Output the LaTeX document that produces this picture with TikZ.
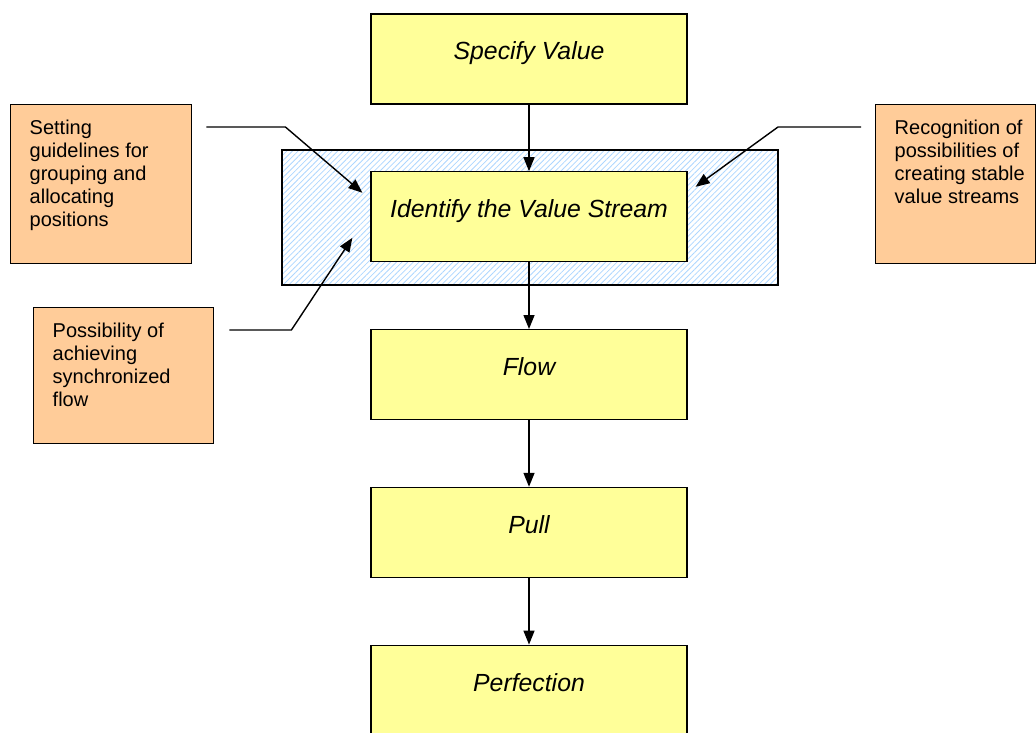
\documentclass[tikz,border=0pt]{standalone}
\usepackage{fontspec}
\setmainfont{Liberation Sans}
\usetikzlibrary{positioning,calc,arrows.meta,patterns.meta}
\definecolor{stepyellow}{HTML}{FFFF99}
\definecolor{noteorange}{HTML}{FFCC99}
\definecolor{hatchblue}{HTML}{99CCFF}
\newcommand{\notetext}[3]
{
	\parbox[c][#2][t]{#1}{\vspace*{7.5pt}\raggedright\leftskip=9.5pt\relax #3}
}
\tikzset{
	stepbox/.style={draw, line width=0.6pt, fill=stepyellow, minimum width=158pt, minimum height=45pt, inner sep=0pt, text height=9pt, text depth=8pt, font=\fontsize{12.4}{14}\selectfont\itshape},
	notebox/.style={draw, line width=0.7pt, fill=noteorange, inner sep=0pt, anchor=north west, font=\fontsize{10}{11.5}\selectfont},
	groupbox/.style={draw, line width=0.7pt, pattern={Lines[angle=45,distance=2pt,line width=0.4pt]}, pattern color=hatchblue!80, minimum width=248pt, minimum height=67.5pt, inner sep=0pt},
	flowarrow/.style={-{Triangle[length=7pt,width=5.5pt]}, line width=0.7pt},
}
\begin{document}
\begin{tikzpicture}[x=0.5pt,y=-0.5pt]
\useasboundingbox (0,0) rectangle (1036,732);

\node[groupbox] (group) at (530,217.5) {};

\node[stepbox] (val) at (529,59) {Specify Value};
\node[stepbox, below=33.3pt of val] (stream) {Identify the Value Stream};
\node[stepbox, below=33.3pt of stream] (flow) {Flow};
\node[stepbox, below=33.3pt of flow] (pull) {Pull};
\node[stepbox, below=33.3pt of pull] (perf) {Perfection};

\node[notebox] (guide) at (10,104) {\notetext{90.5pt}{79.5pt}{Setting\\guidelines for\\grouping and\\allocating\\positions}};
\node[notebox] (recog) at (875,104) {\notetext{80pt}{79.5pt}{Recognition of\\possibilities of\\creating stable\\value streams}};
\node[notebox] (synch) at (33,307) {\notetext{90pt}{68pt}{Possibility of\\achieving\\synchronized\\flow}};

\foreach \a/\b in {val/stream, stream/flow, flow/pull, pull/perf}
	\draw[flowarrow] (\a) -- (\b);

\draw[flowarrow] ($(guide.north east)+(14,23)$) -- ++(79,0) -- ($(stream.west)+(-8,-24)$);
\draw[flowarrow] ($(recog.north west)+(-14,23)$) -- ++(-83,0) -- ($(stream.east)+(8,-30)$);
\draw[flowarrow] ($(synch.north east)+(15,23)$) -- ++(62,0) -- ($(stream.west)+(-18,21)$);
\end{tikzpicture}
\end{document}
